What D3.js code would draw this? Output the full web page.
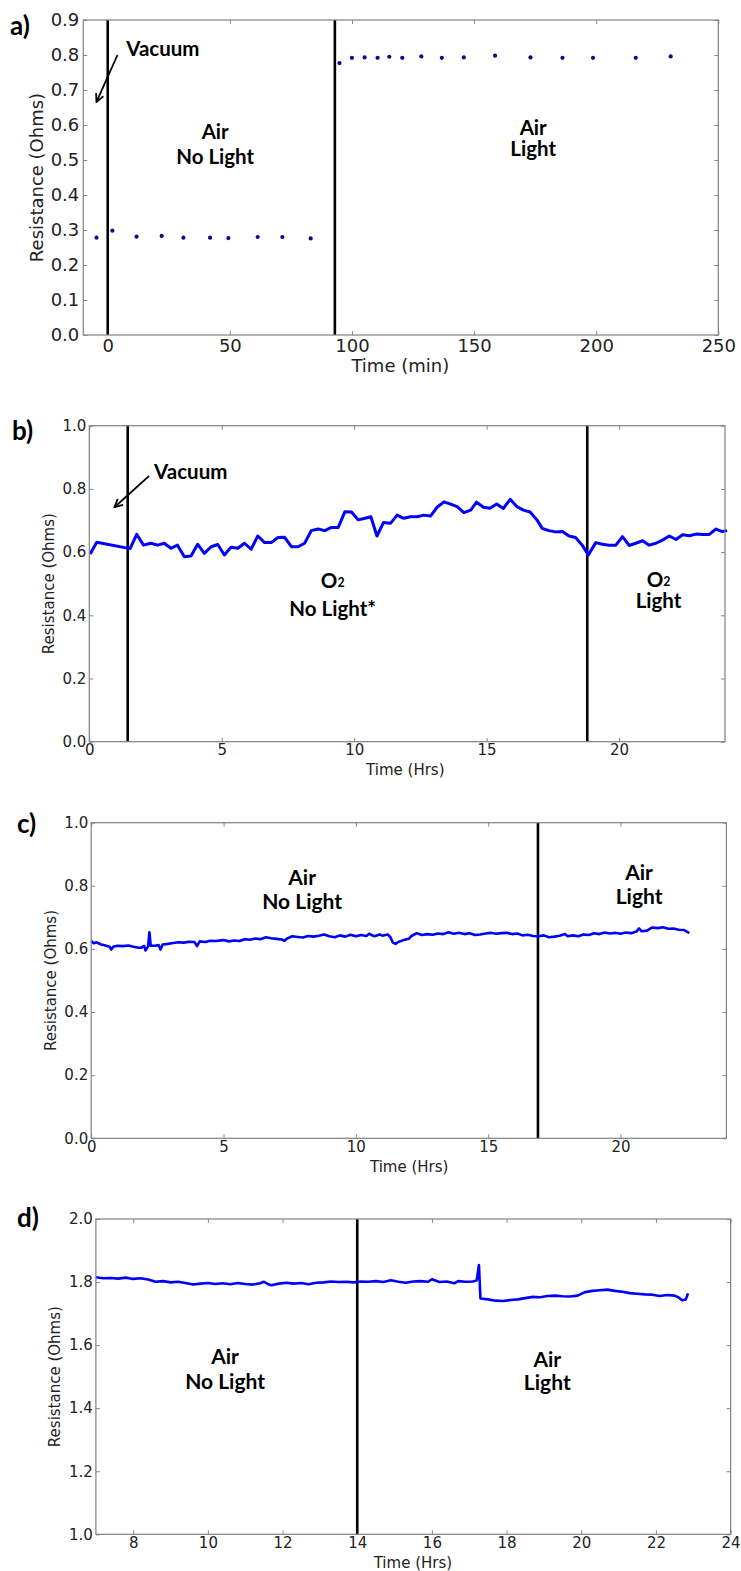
<!DOCTYPE html>
<html><head><meta charset="utf-8">
<script src="https://cdn.jsdelivr.net/npm/d3@7"></script>
<style>
html,body{margin:0;padding:0;background:#fff;}
svg{display:block;}
</style></head>
<body>
<svg id="chart" width="741" height="1571"></svg>
<script>
// ---------------- DATA ----------------
// Panel a: scatter (time in min, resistance in Ohms)
const aTimes = [-4.6, 1.9, 11.8, 22.1, 31.0, 41.9, 49.4, 61.4, 71.5, 83.1,
                94.9, 100.0, 105.2, 110.5, 115.3, 120.6, 128.4, 136.8, 145.8, 158.6, 173.1, 186.2, 198.7, 216.2, 230.5];
const aValues = [0.278, 0.298, 0.281, 0.283, 0.278, 0.278, 0.277, 0.280, 0.280, 0.276,
                 0.777, 0.792, 0.793, 0.792, 0.795, 0.792, 0.796, 0.792, 0.793, 0.798, 0.793, 0.792, 0.792, 0.792, 0.796];
const aEvents = [0, 93];
const aXTicks = [0, 50, 100, 150, 200, 250];
const aYTicks = [0.0, 0.1, 0.2, 0.3, 0.4, 0.5, 0.6, 0.7, 0.8, 0.9];

// Panel b: line (time in hrs)
const bTimes = [0.03, 0.28, 1.54, 1.79, 2.05, 2.32, 2.58, 2.83, 3.08, 3.33, 3.59, 3.84, 4.09, 4.34, 4.60, 4.85,
  5.10, 5.35, 5.61, 5.86, 6.11, 6.36, 6.62, 6.87, 7.12, 7.37, 7.63, 7.88, 8.13, 8.38, 8.64, 8.89, 9.14, 9.40,
  9.65, 9.90, 10.15, 10.41, 10.63, 10.86, 11.11, 11.37, 11.62, 11.87, 12.12, 12.38, 12.63, 12.88, 13.13, 13.39,
  13.64, 13.89, 14.14, 14.40, 14.62, 14.88, 15.13, 15.38, 15.63, 15.89, 16.14, 16.39, 16.64, 16.90, 17.10, 17.35,
  17.60, 17.86, 18.11, 18.36, 18.61, 18.84, 19.12, 19.37, 19.62, 19.88, 20.13, 20.38, 20.63, 20.89, 21.14, 21.39,
  21.64, 21.90, 22.15, 22.40, 22.65, 22.91, 23.16, 23.41, 23.66, 23.89, 24.08];
const bValues = [0.594, 0.631, 0.611, 0.656, 0.622, 0.628, 0.622, 0.628, 0.612, 0.622, 0.585, 0.588, 0.625, 0.596, 0.617, 0.624,
  0.591, 0.615, 0.612, 0.628, 0.609, 0.651, 0.630, 0.630, 0.646, 0.647, 0.617, 0.617, 0.628, 0.668, 0.673, 0.668, 0.678, 0.678,
  0.728, 0.727, 0.702, 0.707, 0.712, 0.651, 0.694, 0.691, 0.717, 0.707, 0.712, 0.712, 0.717, 0.714, 0.742, 0.759,
  0.752, 0.744, 0.725, 0.733, 0.758, 0.742, 0.739, 0.752, 0.738, 0.767, 0.744, 0.733, 0.727, 0.702, 0.675, 0.668,
  0.664, 0.665, 0.651, 0.646, 0.622, 0.591, 0.630, 0.625, 0.622, 0.622, 0.649, 0.621, 0.628, 0.636, 0.622, 0.628,
  0.638, 0.651, 0.640, 0.655, 0.652, 0.657, 0.656, 0.656, 0.673, 0.665, 0.668];
const bEvents = [1.45, 18.8];
const bXTicks = [0, 5, 10, 15, 20];
const bYTicks = [0.0, 0.2, 0.4, 0.6, 0.8, 1.0];

// Panel c: line (time in hrs)
const cTimes = [0.0, 0.1, 0.2, 0.35, 0.5, 0.7, 0.75, 0.85, 1.0, 1.2, 1.4, 1.6, 1.8, 1.9, 2.0, 2.05, 2.15, 2.2, 2.25, 2.4,
  2.55, 2.62, 2.7, 2.9, 3.1, 3.3, 3.5, 3.7, 3.9, 4.0, 4.1, 4.3, 4.5, 4.7, 5.0, 5.2, 5.4, 5.6, 5.8, 6.0, 6.2, 6.4,
  6.6, 6.8, 7.0, 7.2, 7.3, 7.4, 7.6, 7.8, 8.0, 8.2, 8.4, 8.6, 8.8, 9.0, 9.2, 9.4, 9.6, 9.8, 10.0, 10.2, 10.4, 10.5,
  10.7, 10.9, 11.0, 11.2, 11.3, 11.4, 11.5, 11.6, 11.8, 12.0, 12.1, 12.3, 12.5, 12.7, 12.9, 13.1, 13.3, 13.5, 13.7,
  13.9, 14.1, 14.3, 14.5, 14.7, 14.9, 15.1, 15.3, 15.5, 15.7, 15.9, 16.1, 16.3, 16.5, 16.7, 16.9, 17.1, 17.3, 17.5,
  17.7, 17.9, 18.0, 18.2, 18.4, 18.6, 18.8, 19.0, 19.2, 19.4, 19.6, 19.8, 20.0, 20.2, 20.4, 20.6, 20.7, 20.8, 21.0,
  21.2, 21.4, 21.6, 21.8, 22.0, 22.2, 22.4, 22.6];
const cValues = [0.625, 0.618, 0.621, 0.615, 0.612, 0.607, 0.598, 0.608, 0.610, 0.609, 0.611, 0.607, 0.604, 0.604, 0.610, 0.595, 0.608, 0.653, 0.610, 0.610,
  0.612, 0.598, 0.614, 0.616, 0.619, 0.621, 0.620, 0.623, 0.622, 0.609, 0.624, 0.622, 0.626, 0.625, 0.628, 0.624, 0.627, 0.625, 0.631, 0.629, 0.633, 0.631,
  0.637, 0.634, 0.632, 0.630, 0.626, 0.633, 0.640, 0.638, 0.636, 0.641, 0.639, 0.642, 0.646, 0.640, 0.637, 0.643, 0.639, 0.645, 0.640, 0.644, 0.641, 0.648,
  0.640, 0.646, 0.642, 0.646, 0.638, 0.620, 0.616, 0.622, 0.628, 0.632, 0.641, 0.650, 0.644, 0.647, 0.645, 0.649, 0.647, 0.653, 0.648,
  0.651, 0.647, 0.650, 0.644, 0.646, 0.649, 0.651, 0.648, 0.650, 0.651, 0.647, 0.649, 0.643, 0.645, 0.641, 0.640, 0.643, 0.637, 0.639,
  0.642, 0.647, 0.640, 0.643, 0.640, 0.646, 0.644, 0.650, 0.647, 0.652, 0.649, 0.651, 0.648, 0.652, 0.650, 0.655, 0.665, 0.656, 0.658,
  0.668, 0.666, 0.669, 0.664, 0.665, 0.661, 0.660, 0.650];
const cEvents = [16.88];
const cXTicks = [0, 5, 10, 15, 20];
const cYTicks = [0.0, 0.2, 0.4, 0.6, 0.8, 1.0];

// Panel d: line (time in hrs)
const dTimes = [7.0, 7.2, 7.4, 7.6, 7.8, 8.0, 8.2, 8.4, 8.6, 8.8, 9.0, 9.2, 9.4, 9.6, 9.8, 10.0, 10.2, 10.4, 10.6, 10.8,
  11.0, 11.2, 11.4, 11.5, 11.6, 11.7, 11.9, 12.1, 12.3, 12.5, 12.7, 12.9, 13.1, 13.3, 13.5, 13.7, 13.9, 14.1, 14.3,
  14.5, 14.7, 14.9, 15.1, 15.3, 15.5, 15.7, 15.9, 16.0, 16.2, 16.4, 16.6, 16.7, 16.9, 17.1, 17.2, 17.26, 17.30, 17.5,
  17.7, 17.9, 18.1, 18.3, 18.5, 18.7, 18.9, 19.1, 19.3, 19.5, 19.7, 19.9, 20.1, 20.3, 20.5, 20.7, 20.9, 21.1, 21.3,
  21.5, 21.7, 21.9, 22.1, 22.3, 22.5, 22.6, 22.7, 22.8, 22.86];
const dValues = [1.815, 1.812, 1.813, 1.811, 1.814, 1.810, 1.812, 1.808, 1.801, 1.803, 1.799, 1.801, 1.797, 1.792, 1.795, 1.797, 1.794, 1.796, 1.793, 1.797,
  1.794, 1.792, 1.796, 1.801, 1.794, 1.790, 1.795, 1.798, 1.795, 1.797, 1.793, 1.798, 1.799, 1.802, 1.800, 1.801, 1.799, 1.802, 1.801,
  1.803, 1.800, 1.806, 1.801, 1.798, 1.802, 1.803, 1.801, 1.809, 1.800, 1.802, 1.796, 1.803, 1.801, 1.802, 1.806, 1.854, 1.748, 1.745,
  1.741, 1.740, 1.743, 1.745, 1.749, 1.753, 1.752, 1.756, 1.757, 1.755, 1.754, 1.757, 1.768, 1.772, 1.774, 1.776, 1.772, 1.769, 1.765,
  1.763, 1.761, 1.760, 1.756, 1.759, 1.757, 1.752, 1.742, 1.745, 1.764];
const dEvents = [14.0];
const dXTicks = [8, 10, 12, 14, 16, 18, 20, 22, 24];
const dYTicks = [1.0, 1.2, 1.4, 1.6, 1.8, 2.0];

// ---------------- DRAWING ----------------
const svg = d3.select("#chart");
const tickFont = "'DejaVu Sans', sans-serif";
const annFont = "Lato, 'Open Sans', sans-serif";
svg.append("defs").append("marker")
  .attr("id", "arrow").attr("viewBox", "0 0 10 10").attr("refX", 9).attr("refY", 5)
  .attr("markerWidth", 10).attr("markerHeight", 10).attr("markerUnits", "userSpaceOnUse")
  .attr("orient", "auto")
  .append("path").attr("d", "M1,1 L9,5 L1,9").attr("fill", "none").attr("stroke", "#000").attr("stroke-width", 1.8);

function panel(cfg) {
  const g = svg.append("g").attr("transform", `translate(${cfg.left},${cfg.top})`);
  const x = d3.scaleLinear().domain(cfg.xDomain).range([0, cfg.w]);
  const y = d3.scaleLinear().domain(cfg.yDomain).range([cfg.h, 0]);
  const fmtY = d3.format(".1f");

  const bx = g.append("g").attr("transform", `translate(0,${cfg.h})`)
    .call(d3.axisBottom(x).tickValues(cfg.xTicks).tickSize(-4).tickPadding(cfg.xPad).tickFormat(d3.format("d")));
  const ly = g.append("g")
    .call(d3.axisLeft(y).tickValues(cfg.yTicks).tickSize(-4).tickPadding(cfg.yPad).tickFormat(fmtY));
  const tx = g.append("g").call(d3.axisTop(x).tickValues(cfg.xTicks).tickSize(-4).tickFormat(""));
  const ry = g.append("g").attr("transform", `translate(${cfg.w},0)`)
    .call(d3.axisRight(y).tickValues(cfg.yTicks).tickSize(-4).tickFormat(""));
  [bx, ly, tx, ry].forEach(a => {
    a.select(".domain").remove();
    a.selectAll(".tick line").attr("stroke", "#888").attr("stroke-width", 1);
    a.selectAll(".tick text").attr("font-family", tickFont).attr("font-size", cfg.tickSize).attr("fill", "#222");
  });

  g.selectAll(".ev").data(cfg.events).enter().append("line")
    .attr("x1", d => x(d)).attr("x2", d => x(d)).attr("y1", 0).attr("y2", cfg.h)
    .attr("stroke", "#000").attr("stroke-width", 2.6);

  const pts = cfg.times.map((t, i) => [t, cfg.values[i]]);
  if (cfg.type === "scatter") {
    g.selectAll(".pt").data(pts).enter().append("circle")
      .attr("cx", d => x(d[0])).attr("cy", d => y(d[1])).attr("r", 2.1).attr("fill", "#0a0a8c");
  } else {
    g.append("path").datum(pts)
      .attr("d", d3.line().x(d => x(d[0])).y(d => y(d[1])))
      .attr("fill", "none").attr("stroke", "#0000ff").attr("stroke-width", cfg.lw).attr("stroke-linejoin", "round");
  }

  g.append("rect").attr("x", 0).attr("y", 0).attr("width", cfg.w).attr("height", cfg.h)
    .attr("fill", "none").attr("stroke", "#808080").attr("stroke-width", 1.2);

  g.append("text").attr("x", cfg.xLabelX).attr("y", cfg.h + cfg.xLabelDy).attr("text-anchor", "middle")
    .attr("font-family", tickFont).attr("font-size", cfg.labelSize).attr("fill", "#222").text(cfg.xLabel);
  g.append("text").attr("transform", `translate(${cfg.yLabelX},${cfg.h / 2}) rotate(-90)`)
    .attr("text-anchor", "middle").attr("dominant-baseline", "central")
    .attr("font-family", tickFont).attr("font-size", cfg.labelSize).attr("fill", "#222").text("Resistance (Ohms)");

  svg.append("text").attr("x", cfg.letterX).attr("y", cfg.letterY)
    .attr("font-family", annFont).attr("font-weight", "bold").attr("font-size", 26).attr("fill", "#000").text(cfg.letter);

  cfg.notes.forEach(n => {
    const t = g.append("text").attr("x", x(n.x)).attr("y", y(n.y)).attr("text-anchor", "middle")
      .attr("dominant-baseline", "central")
      .attr("font-family", annFont).attr("font-weight", "bold").attr("font-size", cfg.annSize).attr("fill", "#000");
    if (n.sub) {
      t.append("tspan").text(n.text);
      t.append("tspan").attr("font-size", cfg.annSize * 0.6).attr("dy", 2).text(n.sub);
    } else {
      t.text(n.text);
    }
  });
  if (cfg.arrow) {
    const a = cfg.arrow;
    g.append("line").attr("x1", x(a[0])).attr("y1", y(a[1])).attr("x2", x(a[2])).attr("y2", y(a[3]))
      .attr("stroke", "#000").attr("stroke-width", 1.8).attr("marker-end", "url(#arrow)");
  }
}

panel({
  letter: "a)", letterX: 10, letterY: 35,
  left: 83.3, top: 20, w: 635, h: 315,
  xDomain: [-10, 250], yDomain: [0, 0.9], xTicks: aXTicks, yTicks: aYTicks,
  tickSize: 18, labelSize: 18, xPad: 4, yPad: 4,
  xLabel: "Time (min)", xLabelX: 317, xLabelDy: 37, yLabelX: -47,
  times: aTimes, values: aValues, events: aEvents, type: "scatter",
  annSize: 20.5,
  notes: [
    {x: 22.6, y: 0.82, text: "Vacuum"},
    {x: 44, y: 0.583, text: "Air"}, {x: 44, y: 0.511, text: "No Light"},
    {x: 174.2, y: 0.594, text: "Air"}, {x: 174.2, y: 0.534, text: "Light"}
  ],
  arrow: [4.0, 0.80, -4.6, 0.666]
});

panel({
  letter: "b)", letterX: 12, letterY: 440,
  left: 89.3, top: 425.7, w: 635.7, h: 316,
  xDomain: [0, 24], yDomain: [0, 1], xTicks: bXTicks, yTicks: bYTicks,
  tickSize: 15, labelSize: 15, xPad: 3, yPad: 3,
  xLabel: "Time (Hrs)", xLabelX: 316, xLabelDy: 33, yLabelX: -40,
  times: bTimes, values: bValues, events: bEvents, type: "line", lw: 3,
  annSize: 20.5,
  notes: [
    {x: 3.83, y: 0.858, text: "Vacuum"},
    {x: 9.19, y: 0.512, text: "O", sub: "2"}, {x: 9.19, y: 0.423, text: "No Light*"},
    {x: 21.49, y: 0.515, text: "O", sub: "2"}, {x: 21.49, y: 0.448, text: "Light"}
  ],
  arrow: [2.26, 0.841, 0.95, 0.742]
});

panel({
  letter: "c)", letterX: 17, letterY: 833,
  left: 91.2, top: 822.7, w: 635.2, h: 315.6,
  xDomain: [0, 24], yDomain: [0, 1], xTicks: cXTicks, yTicks: cYTicks,
  tickSize: 15, labelSize: 15, xPad: 3, yPad: 3,
  xLabel: "Time (Hrs)", xLabelX: 318, xLabelDy: 34, yLabelX: -40,
  times: cTimes, values: cValues, events: cEvents, type: "line", lw: 2.6,
  annSize: 21,
  notes: [
    {x: 7.97, y: 0.831, text: "Air"}, {x: 7.97, y: 0.752, text: "No Light"},
    {x: 20.7, y: 0.844, text: "Air"}, {x: 20.7, y: 0.769, text: "Light"}
  ]
});

panel({
  letter: "d)", letterX: 17, letterY: 1227,
  left: 95.9, top: 1219, w: 634.7, h: 315.3,
  xDomain: [7, 24], yDomain: [1, 2], xTicks: dXTicks, yTicks: dYTicks,
  tickSize: 15, labelSize: 15, xPad: 3, yPad: 3,
  xLabel: "Time (Hrs)", xLabelX: 317, xLabelDy: 34, yLabelX: -41,
  times: dTimes, values: dValues, events: dEvents, type: "line", lw: 2.6,
  annSize: 21,
  notes: [
    {x: 10.46, y: 1.566, text: "Air"}, {x: 10.46, y: 1.489, text: "No Light"},
    {x: 19.09, y: 1.556, text: "Air"}, {x: 19.09, y: 1.484, text: "Light"}
  ]
});
</script>
</body></html>
